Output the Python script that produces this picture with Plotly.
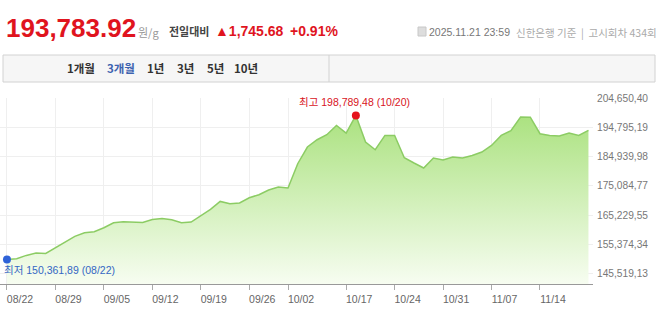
import plotly.graph_objects as go

# ---------------- data ----------------
dates = [
    "08/22", "08/25", "08/26", "08/27", "08/28", "08/29",
    "09/01", "09/02", "09/03", "09/04", "09/05",
    "09/08", "09/09", "09/10", "09/11", "09/12",
    "09/15", "09/16", "09/17", "09/18", "09/19",
    "09/22", "09/23", "09/24", "09/25", "09/26",
    "09/29", "09/30", "10/01", "10/02",
    "10/10", "10/13", "10/14", "10/15", "10/16", "10/17",
    "10/20", "10/21", "10/22", "10/23", "10/24",
    "10/27", "10/28", "10/29", "10/30", "10/31",
    "11/03", "11/04", "11/05", "11/06", "11/07",
    "11/10", "11/11", "11/12", "11/13", "11/14",
    "11/17", "11/18", "11/19", "11/20", "11/21",
]
prices = [
    150361.89, 150597, 151707, 152514, 152380, 154196,
    156079, 158097, 159341, 159677, 161022,
    162704, 163040, 162939, 162805, 163814,
    164150, 163713, 162704, 162939, 164957,
    167177, 169867, 169094, 169329, 171111,
    172120, 173701, 174710, 174374,
    182546, 188162, 190617, 192298, 195426, 192870,
    198789.48, 189843, 187254, 192063, 192063,
    184563, 182781, 181100, 184463, 183790,
    184799, 184463, 185337, 186480, 188700,
    192063, 193644, 198250, 198180, 192635,
    192063, 191861, 192870, 192038.24, 193783.92,
]
x_tick_labels = ["08/22", "08/29", "09/05", "09/12", "09/19", "09/26",
                 "10/02", "10/17", "10/24", "10/31", "11/07", "11/14"]
y_tick_values = [145519.13, 155374.34, 165229.55, 175084.77,
                 184939.98, 194795.19, 204650.40]

header_price = 193783.92
change_value = 1745.68
change_pct = 0.91
timestamp = "2025.11.21 23:59"
source_text = "신한은행 기준  |  고시회차 434회"
periods = ["1개월", "3개월", "1년", "3년", "5년", "10년"]
selected_period = "3개월"

# ---------------- helpers ----------------
W, H = 658, 315
L, R, T, B = 0, 65, 98, 31
PW, PH = W - L - R, H - T - B
BOTTOM_PX = H - B


def px(x):
    return (x - L) / PW


def py(y):
    return (BOTTOM_PX - y) / PH


def fmt(v):
    return f"{v:,.2f}".replace(".", ",")


NUM_FONT = "Liberation Sans, Arial, Noto Sans CJK KR"
KR_FONT = "Noto Sans CJK KR, Liberation Sans"

step = y_tick_values[1] - y_tick_values[0]
y_lo = y_tick_values[0] - 0.348 * step
y_hi = y_tick_values[-1]

i_max = max(range(len(prices)), key=lambda i: prices[i])
i_min = min(range(len(prices)), key=lambda i: prices[i])

fig = go.Figure()
fig.add_trace(go.Scatter(
    x=dates, y=prices, mode="lines",
    line=dict(color="#8ccc64", width=1.5),
    fill="tozeroy",
    fillgradient=dict(type="vertical",
                      colorscale=[[0, "#f7fdf1"], [1, "#a3df74"]],
                      start=y_lo, stop=y_hi),
    hoverinfo="skip", showlegend=False,
))
fig.add_trace(go.Scatter(
    x=[dates[i_max]], y=[prices[i_max]], mode="markers",
    marker=dict(color="#e5131d", size=8), showlegend=False, hoverinfo="skip",
))
fig.add_trace(go.Scatter(
    x=[dates[i_min]], y=[prices[i_min]], mode="markers",
    marker=dict(color="#2f63d8", size=8), showlegend=False, hoverinfo="skip",
))

annotations = [
    dict(x=dates[i_max], y=prices[i_max], xref="x", yref="y",
         text=f"최고 {fmt(prices[i_max])} ({dates[i_max]})",
         showarrow=False, xanchor="center", yanchor="middle", yshift=13, xshift=-1,
         font=dict(family=NUM_FONT, size=10.5, color="#d8141c")),
    dict(x=dates[i_min], y=prices[i_min], xref="x", yref="y",
         text=f"최저 {fmt(prices[i_min])} ({dates[i_min]})",
         showarrow=False, xanchor="left", yanchor="middle", xshift=-5, yshift=-11,
         font=dict(family=NUM_FONT, size=10.5, color="#3467c4")),
    # header
    dict(x=px(4), y=py(28), xref="paper", yref="paper",
         text=f"<b>{header_price:,.2f}</b>", showarrow=False,
         xanchor="left", yanchor="middle",
         font=dict(family=NUM_FONT, size=26, color="#e0141e")),
    dict(x=px(136), y=py(32), xref="paper", yref="paper",
         text="원/g", showarrow=False, xanchor="left", yanchor="middle",
         font=dict(family=KR_FONT, size=11, color="#999999")),
    dict(x=px(167), y=py(31), xref="paper", yref="paper",
         text="<b>전일대비</b>", showarrow=False, xanchor="left", yanchor="middle",
         font=dict(family=KR_FONT, size=11, color="#444444")),
    dict(x=px(213), y=py(31), xref="paper", yref="paper",
         text=f"<b>▲{change_value:,.2f}</b>", showarrow=False,
         xanchor="left", yanchor="middle",
         font=dict(family=NUM_FONT, size=14, color="#e0141e")),
    dict(x=px(288), y=py(31), xref="paper", yref="paper",
         text=f"<b>+{change_pct:.2f}%</b>", showarrow=False,
         xanchor="left", yanchor="middle",
         font=dict(family=NUM_FONT, size=14, color="#e0141e")),
    dict(x=px(427), y=py(32), xref="paper", yref="paper",
         text=timestamp, showarrow=False, xanchor="left", yanchor="middle",
         font=dict(family=NUM_FONT, size=10.5, color="#777777")),
    dict(x=px(514), y=py(32), xref="paper", yref="paper",
         text=source_text, showarrow=False, xanchor="left", yanchor="middle",
         font=dict(family=KR_FONT, size=10.5, color="#aaaaaa")),
]

tab_x = [65, 105, 145, 175, 205, 232]
for lbl, tx in zip(periods, tab_x):
    annotations.append(dict(
        x=px(tx), y=py(68.5), xref="paper", yref="paper",
        text=f"<b>{lbl}</b>", showarrow=False, xanchor="left", yanchor="middle",
        font=dict(family=KR_FONT, size=11.5,
                  color="#3d63b0" if lbl == selected_period else "#333333")))

shapes = [
    dict(type="rect", xref="paper", yref="paper",
         x0=px(3), x1=px(655), y0=py(55), y1=py(82),
         fillcolor="#f6f6f6", line=dict(color="#d2d2d2", width=1), layer="below"),
    dict(type="line", xref="paper", yref="paper",
         x0=px(329), x1=px(329), y0=py(55), y1=py(82),
         line=dict(color="#d2d2d2", width=1)),
    dict(type="rect", xref="paper", yref="paper",
         x0=px(418), x1=px(426), y0=py(27), y1=py(36),
         fillcolor="#dddddd", line=dict(color="#c8c8c8", width=1)),
]

fig.update_layout(
    width=W, height=H,
    margin=dict(l=L, r=R, t=T, b=B),
    paper_bgcolor="white", plot_bgcolor="white",
    showlegend=False,
    annotations=annotations,
    shapes=shapes,
    xaxis=dict(
        type="category",
        range=[-0.72, len(dates) - 1 + 0.47],
        tickvals=x_tick_labels, ticktext=x_tick_labels,
        showgrid=True, gridcolor="#efefef", gridwidth=1,
        showline=True, linecolor="#999999", linewidth=1,
        ticks="outside", ticklen=5, tickcolor="#aaaaaa",
        ticklabelshift=13,
        tickfont=dict(family=NUM_FONT, size=10.5, color="#666666"),
        zeroline=False, fixedrange=True, automargin=False,
    ),
    yaxis=dict(
        range=[y_lo, y_hi],
        side="right",
        tickvals=y_tick_values,
        ticktext=[fmt(v) for v in y_tick_values],
        showgrid=True, gridcolor="#efefef", gridwidth=1,
        showline=False, zeroline=False,
        ticks="", ticklabelstandoff=3,
        tickfont=dict(family=NUM_FONT, size=10.2, color="#777777"),
        fixedrange=True, automargin=False,
    ),
)

fig.write_html("out.html")
